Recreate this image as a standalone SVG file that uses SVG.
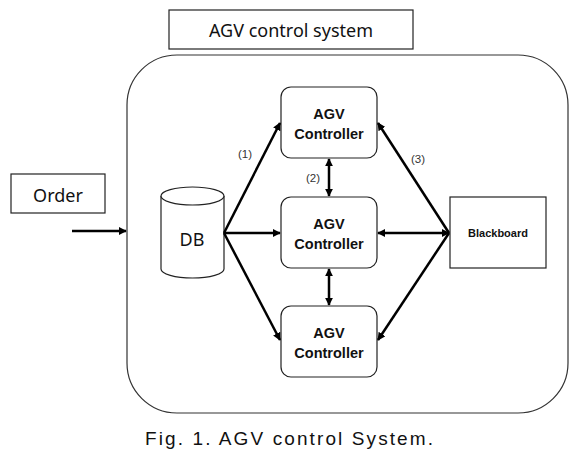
<svg xmlns="http://www.w3.org/2000/svg" width="588" height="462" viewBox="0 0 588 462">
<style>
.box{fill:#fff;stroke:#222;stroke-width:1.2}
.t{font-family:"Noto Sans","Liberation Sans",sans-serif;fill:#111;text-anchor:middle}
.b{font-family:"Liberation Sans",Arial,sans-serif;font-weight:bold;fill:#111;text-anchor:middle}
.lbl{font-family:"Liberation Sans",Arial,sans-serif;font-size:11.5px;fill:#333;text-anchor:middle}
.c{stroke:#000;stroke-width:2.5;fill:none}
</style>
<defs>
<marker id="ah" viewBox="0 0 10 10" refX="9" refY="5" markerWidth="3.2" markerHeight="3.2" orient="auto-start-reverse" markerUnits="strokeWidth">
<path d="M0,0 L10,5 L0,10 z" fill="#000"/>
</marker>
<marker id="dot" viewBox="0 0 10 10" refX="5" refY="5" markerWidth="2" markerHeight="2.6" orient="auto" markerUnits="strokeWidth">
<rect x="0" y="0" width="10" height="10" fill="#000"/>
</marker>
</defs>
<rect width="588" height="462" fill="#fff"/>
<g id="title">
<rect class="box" x="169" y="10" width="244" height="39"/>
<text class="t" x="291" y="37" font-size="18">AGV control system</text>
</g>
<g id="system">
<rect x="127" y="55" width="441" height="358" rx="50" ry="50" fill="none" stroke="#333" stroke-width="1.2"/>
</g>
<g id="order">
<rect class="box" x="11" y="174" width="94" height="39"/>
<text class="t" x="58" y="202" font-size="18">Order</text>
</g>
<g id="db">
<path d="M161,196 L161,269 A31.5,9 0 0 0 224,269 L224,196" fill="#fff" stroke="#222" stroke-width="1.2"/>
<ellipse cx="192.5" cy="196" rx="31.5" ry="9" fill="#fff" stroke="#222" stroke-width="1.2"/>
<text class="t" x="192" y="246" font-size="18">DB</text>
</g>
<g id="ctrl1">
<rect class="box" x="281" y="87" width="96" height="71" rx="10"/>
<text class="b" x="329" y="119" font-size="14.5">AGV</text>
<text class="b" x="329" y="139" font-size="14.5">Controller</text>
</g>
<g id="ctrl2">
<rect class="box" x="281" y="197" width="96" height="71" rx="10"/>
<text class="b" x="329" y="229" font-size="14.5">AGV</text>
<text class="b" x="329" y="249" font-size="14.5">Controller</text>
</g>
<g id="ctrl3">
<rect class="box" x="281" y="306" width="96" height="71" rx="10"/>
<text class="b" x="329" y="338" font-size="14.5">AGV</text>
<text class="b" x="329" y="358" font-size="14.5">Controller</text>
</g>
<g id="blackboard">
<rect class="box" x="450" y="197" width="96" height="71"/>
<text class="b" x="498" y="237" font-size="11">Blackboard</text>
</g>
<g id="connectors">
<line class="c" x1="72" y1="231" x2="126" y2="231" marker-end="url(#ah)"/>
<line class="c" x1="224" y1="233" x2="280" y2="123" marker-end="url(#ah)"/>
<line class="c" x1="224" y1="233" x2="280" y2="233" marker-end="url(#ah)"/>
<line class="c" x1="224" y1="233" x2="280" y2="340" marker-end="url(#ah)"/>
<line class="c" x1="329" y1="159" x2="329" y2="196" marker-start="url(#ah)" marker-end="url(#ah)"/>
<line class="c" x1="329" y1="269" x2="329" y2="305" marker-start="url(#ah)" marker-end="url(#ah)"/>
<line class="c" x1="449" y1="233" x2="378" y2="123" marker-end="url(#ah)"/>
<line class="c" x1="449" y1="233" x2="378" y2="233" marker-start="url(#ah)" marker-end="url(#ah)"/>
<line class="c" x1="449" y1="233" x2="378" y2="340" marker-end="url(#ah)"/>
<text class="lbl" x="245" y="158">(1)</text>
<text class="lbl" x="313" y="182">(2)</text>
<text class="lbl" x="418" y="163">(3)</text>
</g>
<text x="145" y="445" font-family="'Liberation Sans',Arial,sans-serif" font-size="19" fill="#111" textLength="288" lengthAdjust="spacing">Fig. 1. AGV control System.</text>
</svg>
